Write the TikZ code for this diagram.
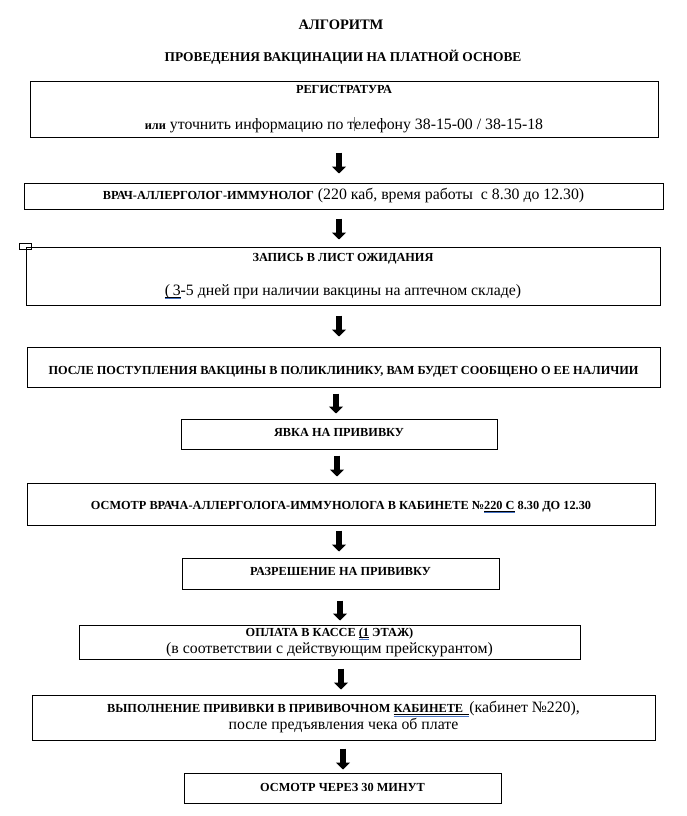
\documentclass[tikz,border=0pt]{standalone}
\usepackage{fontspec}
\setmainfont{Liberation Serif}
\usetikzlibrary{arrows.meta}

\definecolor{spellblue}{RGB}{68,114,196}
\newcommand\titletxt{\fontsize{14.5}{17}\selectfont\bfseries}
\newcommand\subtitletxt{\fontsize{13.4}{16}\selectfont\bfseries}
\newcommand\captxt{\fontsize{12.3}{15}\selectfont\bfseries}
\newcommand\regtxt{\fontsize{15.8}{17}\selectfont}
\newsavebox\spellbox
\newcommand\spellmark[1]{\sbox\spellbox{#1}\rlap{\rule[-1.8pt]{\wd\spellbox}{0.6pt}}\rlap{\color{spellblue}\rule[-3.3pt]{\wd\spellbox}{0.6pt}}\usebox\spellbox}
\newcommand\caretmark{\rlap{\color{gray}\rule[-2pt]{0.5pt}{14pt}}}
\newcommand\lowered[2]{\raisebox{-#1}[\height][\depth]{#2}}

\tikzset{
  box/.style={draw,line width=1pt,inner sep=0pt,align=center,font=\regtxt},
  flowarrow/.style={line width=6pt,-{Triangle[length=7pt,width=14pt]}}
}

\begin{document}
\begin{tikzpicture}[x=1pt,y=-1pt]
          \useasboundingbox (0,0) rectangle (686,816);
          \node (title) at (341,25) {\titletxt АЛГОРИТМ};
          \node (subtitle) at (343,57) {\subtitletxt ПРОВЕДЕНИЯ ВАКЦИНАЦИИ НА ПЛАТНОЙ ОСНОВЕ};
          \node[box,minimum width=628pt,minimum height=56pt] (reg) at (344,109)
            {{\captxt РЕГИСТРАТУРА}\\[19pt]{\captxt или} уточнить информацию по т\caretmark елефону 38-15-00 / 38-15-18};
          \node[box,minimum width=639pt,minimum height=26pt] (vrach) at (343.5,196)
            {{\captxt ВРАЧ-АЛЛЕРГОЛОГ-ИММУНОЛОГ} (220 каб, время работы~~с 8.30 до 12.30)};
          \draw[line width=1pt] (19,243) rectangle (31,249);
          \node[box,minimum width=634pt,minimum height=58pt] (zapis) at (343,276)
            {{\captxt ЗАПИСЬ В ЛИСТ ОЖИДАНИЯ}\\[17pt]\spellmark{(\,3}-5 дней при наличии вакцины на аптечном складе)};
          \node[box,minimum width=633pt,minimum height=40pt] (posle) at (343.5,367)
            {\lowered{5pt}{\captxt ПОСЛЕ ПОСТУПЛЕНИЯ ВАКЦИНЫ В ПОЛИКЛИНИКУ, ВАМ БУДЕТ СООБЩЕНО О ЕЕ НАЛИЧИИ}};
          \node[box,minimum width=316pt,minimum height=30pt] (yavka) at (339,434) {\lowered{-2pt}{\captxt ЯВКА НА ПРИВИВКУ}};
          \node[box,minimum width=628pt,minimum height=42pt] (osmotr) at (341,504)
            {\lowered{3pt}{\captxt ОСМОТР ВРАЧА-АЛЛЕРГОЛОГА-ИММУНОЛОГА В КАБИНЕТЕ №\spellmark{220~С} 8.30 ДО 12.30}};
          \node[box,minimum width=317pt,minimum height=31pt] (razr) at (340.5,573.5) {\lowered{-2pt}{\captxt РАЗРЕШЕНИЕ НА ПРИВИВКУ}};
          \node[box,minimum width=501pt,minimum height=34pt] (oplata) at (329.5,642)
            {{\captxt ОПЛАТА В КАССЕ \spellmark{(1} ЭТАЖ)}\\(в соответствии с действующим прейскурантом)};
          \node[box,minimum width=623pt,minimum height=45pt] (vypoln) at (343.5,717.5)
            {{\captxt ВЫПОЛНЕНИЕ ПРИВИВКИ В ПРИВИВОЧНОМ \spellmark{КАБИНЕТЕ~~}}(кабинет №220),\\после предъявления чека об плате};
          \node[box,minimum width=317pt,minimum height=30pt] (itog) at (342.5,788) {\lowered{-1pt}{\captxt ОСМОТР ЧЕРЕЗ 30 МИНУТ}};
          % arrows between the steps
          \draw[flowarrow,shorten <=15pt,shorten >=9pt] (reg.south -| 339,0) -- (vrach.north -| 339,0);
          \draw[flowarrow,shorten <=9pt,shorten >=7pt] (vrach.south -| 339,0) -- (zapis.north -| 339,0);
          \draw[flowarrow,shorten <=10pt,shorten >=10pt] (zapis.south -| 339,0) -- (posle.north -| 339,0);
          \draw[flowarrow,shorten <=6pt,shorten >=5pt] (posle.south -| 336,0) -- (yavka.north -| 336,0);
          \draw[flowarrow,shorten <=6pt,shorten >=6pt] (yavka.south -| 337,0) -- (osmotr.north -| 337,0);
          \draw[flowarrow,shorten <=5pt,shorten >=6pt] (osmotr.south -| 339,0) -- (razr.north -| 339,0);
          \draw[flowarrow,shorten <=11pt,shorten >=4pt] (razr.south -| 340,0) -- (oplata.north -| 340,0);
          \draw[flowarrow,shorten <=9pt,shorten >=5pt] (oplata.south -| 341,0) -- (vypoln.north -| 341,0);
          \draw[flowarrow,shorten <=8pt,shorten >=3pt] (vypoln.south -| 343,0) -- (itog.north -| 343,0);
        \end{tikzpicture}
\end{document}
